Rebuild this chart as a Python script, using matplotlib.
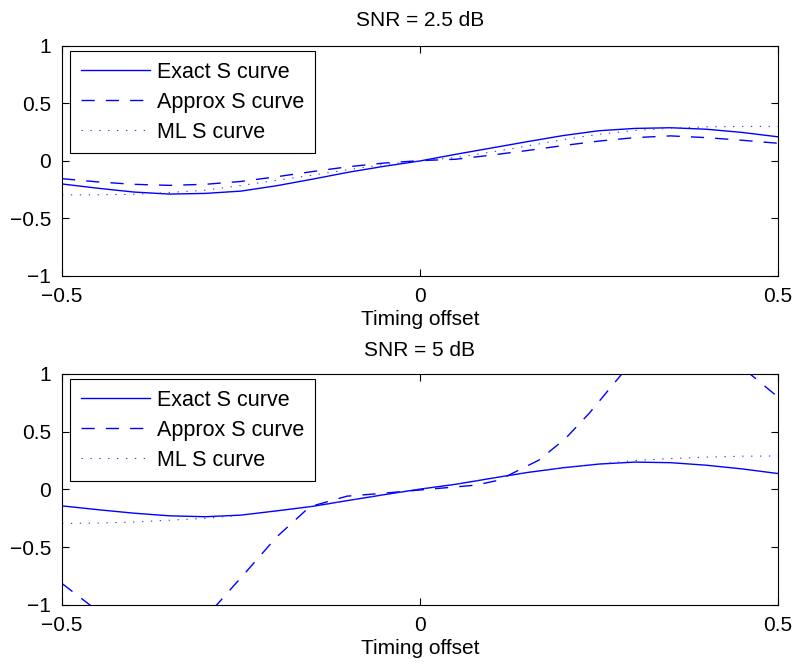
import numpy as np
from matplotlib import pyplot as plt

plt.rcParams['font.family'] = ['Liberation Sans', 'DejaVu Sans']
plt.rcParams['font.size'] = 15

# timing offset grid
x = [-0.5, -0.45, -0.4, -0.35, -0.3, -0.25, -0.2, -0.15, -0.1, -0.05, 0.0,
     0.05, 0.1, 0.15, 0.2, 0.25, 0.3, 0.35, 0.4, 0.45, 0.5]

# SNR = 2.5 dB
exact_25 = [-0.20, -0.237, -0.27, -0.288, -0.282, -0.262, -0.215, -0.158, -0.098, -0.046, 0.0,
            0.058, 0.113, 0.168, 0.221, 0.263, 0.283, 0.289, 0.276, 0.248, 0.21]
approx_25 = [-0.154, -0.182, -0.203, -0.212, -0.203, -0.178, -0.137, -0.092, -0.05, -0.018, 0.003,
             0.015, 0.051, 0.091, 0.134, 0.173, 0.203, 0.218, 0.203, 0.18, 0.154]
ml_25 = [-0.295, -0.294, -0.29, -0.274, -0.254, -0.213, -0.168, -0.123, -0.075, -0.03, 0.0,
         0.03, 0.078, 0.13, 0.186, 0.232, 0.265, 0.285, 0.297, 0.30, 0.30]

# SNR = 5 dB
exact_5 = [-0.142, -0.175, -0.205, -0.228, -0.236, -0.222, -0.185, -0.146, -0.095, -0.045, 0.003,
           0.045, 0.097, 0.147, 0.188, 0.22, 0.237, 0.232, 0.21, 0.178, 0.138]
ml_5 = [-0.294, -0.291, -0.282, -0.266, -0.25, -0.223, -0.19, -0.146, -0.095, -0.045, 0.003,
        0.045, 0.097, 0.147, 0.19, 0.222, 0.25, 0.268, 0.28, 0.288, 0.29]
x_approx_5 = [-0.5, -0.461, -0.43, -0.4, -0.37, -0.34, -0.31, -0.284, -0.247, -0.2, -0.154,
              -0.13, -0.102, -0.056, -0.014, 0.04, 0.077, 0.11, 0.133, 0.166, 0.203, 0.236,
              0.282, 0.31, 0.34, 0.37, 0.4, 0.43, 0.461, 0.5]
approx_5 = [-0.814, -1.0, -1.12, -1.2, -1.23, -1.2, -1.12, -1.0, -0.742, -0.41, -0.15,
            -0.107, -0.058, -0.035, -0.012, 0.017, 0.037, 0.08, 0.152, 0.254, 0.44, 0.657,
            1.0, 1.12, 1.2, 1.23, 1.2, 1.12, 1.0, 0.80]

titles = ['SNR = 2.5 dB', 'SNR = 5 dB']
labels = ['Exact S curve', 'Approx S curve', 'ML S curve']

fig = plt.figure(figsize=(7.98, 6.66), dpi=100)
ax1 = fig.add_axes([0.0777, 0.5856, 0.8972, 0.3454])
ax2 = fig.add_axes([0.0777, 0.0916, 0.8972, 0.3469])

panels = [(ax1, x, exact_25, x, approx_25, ml_25, 14.4),
          (ax2, x, exact_5, x_approx_5, approx_5, ml_5, 13.0)]

for i, (ax, xe, ye, xa, ya, ym, tpad) in enumerate(panels):
    ax.plot(xe, ye, color='blue', lw=1.0, label=labels[0])
    ax.plot(xa, ya, color='blue', lw=1.0, dashes=(9.5, 8), label=labels[1])
    ax.plot(x, ym, color='#3a3aff', lw=0.8, dashes=(1.2, 6.8), label=labels[2])
    ax.set_xlim(-0.5, 0.5)
    ax.set_ylim(-1, 1)
    ax.set_xticks([-0.5, 0, 0.5])
    ax.set_xticklabels(['\u22120.5', '0', '0.5'])
    ax.set_yticks([-1, -0.5, 0, 0.5, 1])
    ax.set_yticklabels(['\u22121', '\u22120.5', '0', '0.5', '1'])
    ax.tick_params(direction='in', top=True, right=True, length=5, width=0.8, pad=8)
    for s in ax.spines.values():
        s.set_linewidth(0.8)
    ax.set_xlabel('Timing offset', labelpad=3)
    ax.set_title(titles[i], pad=tpad, fontsize=15)
    leg = ax.legend(loc='upper left', bbox_to_anchor=(0.011, 0.979), borderaxespad=0,
                    fancybox=False, edgecolor='black', framealpha=1, handlelength=3.2,
                    handletextpad=0.35, labelspacing=0.42, borderpad=0.5, fontsize=15.5)
    leg.get_frame().set_linewidth(0.8)

plt.savefig('out.png', dpi=100)
